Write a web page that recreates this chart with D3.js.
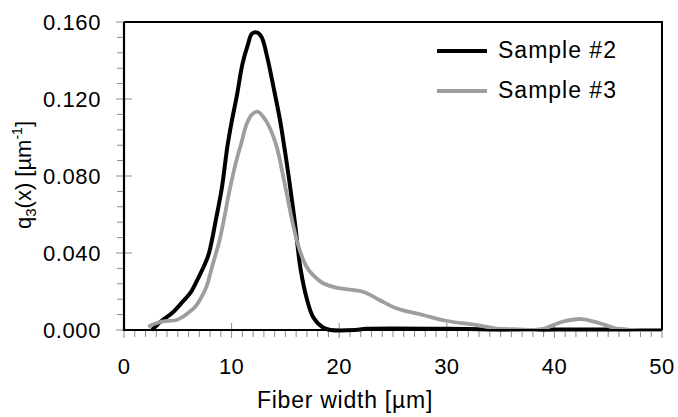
<!DOCTYPE html>
<html><head><meta charset="utf-8">
<script src="https://cdn.jsdelivr.net/npm/d3@7"></script>
<style>body{margin:0;background:#fff}svg{display:block}text{font-family:"Liberation Sans",Arial,sans-serif;fill:#000}</style>
</head><body><svg id="c" width="678" height="417"></svg>
<script>
const sample2X = [2.6,3.4,4.5,5.5,6.2,6.9,7.5,7.9,8.6,9.1,9.6,10.0,10.5,11.0,11.5,11.9,12.4,12.8,13.3,13.9,14.5,14.9,15.3,15.9,16.4,17.0,17.6,18.5,19.2,21.5,22.5,30,33,36,38,40,46,47,50];
const sample2Y = [0,0.0043,0.009,0.015,0.0195,0.027,0.034,0.040,0.059,0.074,0.095,0.108,0.122,0.138,0.148,0.154,0.1545,0.152,0.142,0.126,0.109,0.095,0.080,0.055,0.032,0.016,0.0065,0.0013,0,0,0.0006,0.0006,0.0004,0.0001,0,0.0002,0.0002,0,0];
const sample3X = [2.25,3.0,3.65,4.9,5.5,6.1,6.6,7.05,7.67,8.14,8.9,9.83,10.4,10.9,11.4,11.9,12.4,12.9,13.5,14.2,14.9,15.7,16.3,16.95,17.56,18.5,20.0,22.2,23.75,25.3,27.8,29.9,32.7,34.9,37.4,38.9,40.75,42.5,44.2,46,47.3,50];
const sample3Y = [0.0017,0.0035,0.0045,0.0052,0.007,0.0095,0.012,0.0156,0.0225,0.032,0.047,0.073,0.087,0.097,0.107,0.112,0.1134,0.111,0.1056,0.095,0.077,0.055,0.042,0.033,0.0286,0.0243,0.0217,0.0199,0.0156,0.0113,0.0078,0.0048,0.0026,0.0006,0,0.0005,0.0043,0.0057,0.0035,0.0004,0,0];
const xTicks = [0,10,20,30,40,50];
const yTicks = [0,0.04,0.08,0.12,0.16];
const seriesNames = ["Sample #2","Sample #3"];
const seriesColors = ["#000000","#9e9e9e"];

const svg = d3.select("#c");
const L=124, R=662, T=22, B=330;
const x = d3.scaleLinear().domain([0,50]).range([L,R]);
const y = d3.scaleLinear().domain([0,0.16]).range([B,T]);

// minor ticks
const xMinor = d3.range(0,51,1).filter(v=>v%10!==0);
const yMinor = d3.range(0,0.1601,0.008).filter(v=>Math.abs((v/0.04)-Math.round(v/0.04))>0.01);
const tk = svg.append("g").attr("stroke","#8c8c8c").attr("stroke-width",1);
xMinor.forEach(v=>tk.append("line").attr("x1",x(v)).attr("x2",x(v)).attr("y1",B).attr("y2",B+7));
xTicks.forEach(v=>tk.append("line").attr("x1",x(v)).attr("x2",x(v)).attr("y1",B-7).attr("y2",B+8));
yMinor.forEach(v=>tk.append("line").attr("x1",L-7).attr("x2",L).attr("y1",y(v)).attr("y2",y(v)));
yTicks.forEach(v=>tk.append("line").attr("x1",L-8).attr("x2",L+8).attr("y1",y(v)).attr("y2",y(v)));

// lines
const line = d3.line().x(d=>x(d[0])).y(d=>y(d[1])).curve(d3.curveCatmullRom.alpha(0.5));
const d3pts = sample3X.map((v,i)=>[v,sample3Y[i]]);
const d2pts = sample2X.map((v,i)=>[v,sample2Y[i]]);
svg.append("path").attr("d",line(d2pts)).attr("fill","none").attr("stroke",seriesColors[0]).attr("stroke-width",4).attr("stroke-linejoin","round");
svg.append("path").attr("d",line(d3pts)).attr("fill","none").attr("stroke",seriesColors[1]).attr("stroke-width",3.8).attr("stroke-linejoin","round");

// frame
svg.append("path").attr("d",`M${L},${T}H${R}V${B}`).attr("fill","none").attr("stroke","#000").attr("stroke-width",2);
svg.append("path").attr("d",`M${L},${T}V${B}H${R}`).attr("fill","none").attr("stroke","#000").attr("stroke-width",2.2);

// tick labels
svg.append("g").selectAll("text").data(yTicks).join("text")
  .attr("x",101).attr("y",d=>y(d)+8).attr("text-anchor","end").attr("font-size",22).attr("letter-spacing",0.6).text(d3.format(".3f"));
svg.append("g").selectAll("text").data(xTicks).join("text")
  .attr("x",d=>x(d)).attr("y",374).attr("text-anchor","middle").attr("font-size",22).attr("letter-spacing",0.4).text(d=>d);

// axis titles
svg.append("text").attr("x",345).attr("y",408).attr("text-anchor","middle").attr("font-size",23).attr("letter-spacing",0.75).text("Fiber width [µm]");
const yl = svg.append("text").attr("transform","translate(31,175) rotate(-90)").attr("text-anchor","middle").attr("font-size",22);
yl.append("tspan").text("q");
yl.append("tspan").attr("font-size",15).attr("dy",5).text("3");
yl.append("tspan").attr("dy",-5).text("(x) [µm");
yl.append("tspan").attr("font-size",14).attr("dy",-9).text("-1");
yl.append("tspan").attr("dy",9).text("]");

// legend
seriesNames.forEach((n,i)=>{
  const ly = 51 + i*40;
  svg.append("line").attr("x1",437).attr("x2",487).attr("y1",ly).attr("y2",ly).attr("stroke",seriesColors[i]).attr("stroke-width",4);
  svg.append("text").attr("x",498).attr("y",ly+7).attr("font-size",23).attr("letter-spacing",1).text(n);
});
</script></body></html>
